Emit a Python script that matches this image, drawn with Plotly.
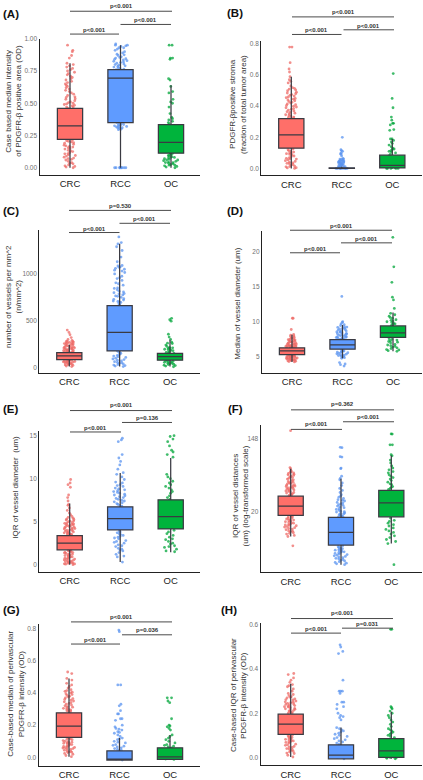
import plotly.graph_objects as go
import math

W, H = 423, 780
categories = ["CRC", "RCC", "OC"]

# Box statistics per panel: [CRC, RCC, OC]
A_q1 = [0.22, 0.35, 0.113]; A_med = [0.325, 0.695, 0.197]; A_q3 = [0.46, 0.76, 0.335]
A_lo = [0.0, 0.0, 0.0]; A_hi = [0.81, 0.95, 0.64]
B_q1 = [0.13, 0.0, 0.003]; B_med = [0.215, 0.001, 0.02]; B_q3 = [0.32, 0.004, 0.085]
B_lo = [0.0, 0.0, 0.0]; B_hi = [0.59, 0.01, 0.19]
C_q1 = [85, 177, 78]; C_med = [124, 375, 117]; C_q3 = [159, 660, 152]
C_lo = [10, 10, 10]; C_hi = [244, 1321, 297]
D_q1 = [5.33, 6.1, 7.77]; D_med = [5.85, 6.7, 8.43]; D_q3 = [6.3, 7.45, 9.4]
D_lo = [4.3, 4.8, 5.8]; D_hi = [8.15, 9.55, 11.3]
E_q1 = [1.73, 4.04, 4.15]; E_med = [2.5, 5.35, 5.58]; E_q3 = [3.38, 6.73, 7.54]
E_lo = [0.0, 0.3, 1.45]; E_hi = [7.1, 10.65, 12.4]
F_q1 = [18.3, 8.16, 17.6]; F_med = [23.5, 11.5, 25.7]; F_q3 = [30.8, 17.3, 36.1]
F_lo = [10.3, 4.8, 8.5]; F_hi = [64.8, 49.5, 93]
G_q1 = [0.125, -0.016, -0.012]; G_med = [0.195, -0.011, 0.003]; G_q3 = [0.277, 0.041, 0.06]
G_lo = [0.005, -0.016, -0.012]; G_hi = [0.49, 0.12, 0.14]
H_q1 = [0.105, -0.006, 0.0]; H_med = [0.151, 0.01, 0.03]; H_q3 = [0.196, 0.057, 0.085]
H_lo = [0.002, -0.006, -0.006]; H_hi = [0.334, 0.136, 0.207]

# Points
A_CRC = [0,.01,.015,.03,.04,.06,.07,.075,.09,.1,.11,.125,.13,.145,.15,.16,.17,.175,.19,.2,.21,.225,.23,.245,.25,.265,.27,.28,.295,.3,.31,.325,.33,.34,.35,.355,.37,.38,.39,.405,.41,.425,.44,.45,.46,.47,.49,.5,.52,.535,.55,.56,.58,.59,.61,.62,.64,.66,.67,.69,.71,.72,.74,.75,.77,.79,.8,.81,.85,.87,.9,.91,.95,
         .005,.022,.035,.05,.065,.082,.095,.108,.118,.135,.155,.165,.182,.195,.205,.215,.47,.48,.485,.495,.505,.51,.53,.545,.57,.6,.63,.65,.68,.7,.73,.76,.78]
A_RCC = [0,0,0,0,0,0,0,0,0,.3,.305,.31,.32,.32,.33,.335,.34,.35,.36,.37,.385,.41,.45,.5,.55,.6,.64,.67,.69,.7,.72,.73,.75,.76,.77,.775,.78,.79,.8,.805,.81,.82,.83,.84,.85,.86,.87,.88,.9,.92,.93,.94,.95,.95,.96,
         .295,.315,.325,.345,.31,.33,.765,.785,.795,.815,.825,.835,.845,.855,.875,.89,.91,.93,.945]
A_OC = [0,.01,.015,.02,.03,.04,.05,.06,.065,.07,.08,.085,.09,.1,.105,.11,.115,.34,.35,.36,.37,.38,.39,.42,.47,.5,.51,.53,.58,.59,.63,.68,.69,.84,.85,.85,.95,.95,
        .005,.025,.035,.045,.055,.075,.095,.02,.04,.06,.08]
B_CRC = [0,.005,.01,.015,.02,.03,.035,.04,.05,.06,.065,.07,.08,.09,.095,.1,.11,.12,.125,.14,.16,.19,.22,.26,.3,.32,.325,.33,.34,.345,.35,.36,.37,.375,.38,.39,.4,.41,.415,.42,.43,.44,.445,.45,.46,.47,.475,.48,.49,.5,.51,.52,.53,.55,.56,.57,.59,.62,.64,.68,.78,.78,
         .003,.012,.025,.033,.045,.055,.062,.075,.085,.098,.105,.115,.328,.338,.355,.365,.385,.395,.405,.425,.435,.455,.465,.485,.505,.515]
B_RCC = [0,0,0,0,0,0,0,0,0,.002,.005,.005,.01,.01,.015,.02,.02,.025,.03,.03,.035,.04,.04,.045,.05,.05,.055,.06,.06,.065,.08,.09,.095,.1,.11,.115,.12,.2,
         .008,.012,.018,.022,.028,.033,.038,.042,.048,.052,.058]
B_OC = [0,0,0,0,0,.002,.005,.01,.02,.03,.04,.05,.06,.08,.09,.1,.105,.11,.115,.12,.125,.13,.14,.15,.16,.17,.18,.19,.19,.245,.25,.28,.29,.29,.31,.33,.39,.45,.61]
C_CRC = [10,22,30,38,45,52,58,62,68,72,78,82,88,92,98,102,108,112,118,122,128,132,138,142,148,155,160,165,170,176,182,188,195,200,207,214,220,228,235,240,248,255,262,268,275,282,290,300,320,350,375,400,
         16,27,34,42,48,55,60,65,70,75,162,168,173,179,185,192,198,203,210,218,225,232,244,252,258,265,272,280]
C_RCC = [10,20,32,45,55,70,85,100,115,130,150,165,175,680,695,700,710,720,735,750,760,775,790,800,815,830,850,880,905,930,950,975,1000,1015,1030,1050,1060,1075,1085,1090,1130,1180,1250,1290,1320,1335,1395,
         15,26,38,50,62,78,92,108,122,140,158,672,705,728,765,785,808,845,895,960,1040,1070]
C_OC = [8,15,25,32,40,48,55,62,70,75,150,160,165,172,180,190,195,205,215,225,240,255,260,270,300,325,355,495,510,525,20,35,45,58,66,155,185,200,210]
D_CRC = [4.3,4.4,4.5,4.55,4.6,4.7,4.75,4.8,4.9,4.95,5,5.05,5.1,5.15,5.2,5.25,5.3,6.3,6.35,6.4,6.45,6.5,6.55,6.6,6.65,6.7,6.8,6.85,6.9,7,7.05,7.1,7.2,7.25,7.3,7.4,7.5,7.6,7.7,7.8,7.9,8,8.1,8.2,8.9,10.5,10.5,
         4.35,4.45,4.52,4.62,4.68,4.72,4.78,4.85,4.88,4.92,4.98,5.02,5.08,5.12,5.18,5.22,5.28,6.32,6.38,6.42,6.48,6.52,6.58,6.62,6.72,6.78,6.95,7.15,7.35,7.45,7.65]
D_RCC = [3.7,3.9,4,4.2,4.8,4.9,5,5.1,5.2,5.3,5.4,5.5,5.6,5.7,5.75,5.8,5.9,6,7.5,7.55,7.6,7.7,7.8,7.85,7.9,8,8.1,8.2,8.25,8.3,8.4,8.5,8.6,8.7,8.8,8.9,9,9.1,9.2,9.3,9.45,9.6,9.7,9.9,10,13.6,
         5.05,5.25,5.45,5.65,5.85,7.52,7.65,7.75,7.95,8.15,8.35,8.55,8.75,9.05,9.25]
D_OC = [5.8,5.9,6,6.05,6.2,6.3,6.4,6.5,6.6,6.7,6.8,7,7.1,7.2,7.3,7.4,7.5,7.6,9.5,9.6,9.7,9.8,9.9,10,10.1,10.2,10.3,10.5,10.6,10.8,11,11.2,11.9,13.1,13.5,15.6,17.8,22]
E_CRC = [0,.05,.1,.15,.2,.3,.35,.4,.5,.55,.6,.7,.75,.8,.9,.95,1,1.1,1.2,1.3,1.4,1.5,1.6,1.7,3.4,3.5,3.55,3.6,3.7,3.8,3.9,4,4.1,4.15,4.2,4.3,4.4,4.5,4.6,4.7,4.8,4.9,5,5.1,5.2,5.3,5.4,5.6,5.8,6,6.3,6.6,6.9,7,7.4,7.8,8.1,9,9.3,9.5,9.9,
         .08,.18,.25,.45,.65,.85,1.05,1.15,1.25,1.35,1.45,1.55,1.65,3.45,3.65,3.75,3.85,3.95,4.05,4.25,4.35,4.45,4.55,4.65,4.75,4.85,5.05,5.25,5.5]
E_RCC = [.3,.9,1,1.2,1.4,1.6,1.7,1.9,2.1,2.3,2.5,2.6,2.8,3,3.1,3.3,3.4,3.6,3.8,3.9,6.8,6.9,7.1,7.3,7.4,7.6,7.8,8,8.1,8.3,8.5,8.6,8.7,8.9,9.1,9.3,9.6,9.9,10.2,10.5,10.7,11.1,11.6,12,12.4,12.8,14.3,14.5,14.7,
         1.8,2.2,2.7,3.2,3.5,3.7,7,7.2,7.5,7.7,7.9,8.2,8.4,8.8,9.2,9.5]
E_OC = [1.5,1.6,1.8,2,2.1,2.2,2.4,2.5,2.7,2.9,3,3.2,3.4,3.6,3.8,4,7.6,7.8,8,8.3,8.5,8.7,8.9,9.1,9.3,9.5,9.7,10,10.2,10.5,12.5,12.8,13.1,13.3,13.8,14.3,14.6,14.9,15]
F_CRC = [8,10.3,10.6,11,11.4,11.7,12,12.4,12.8,13.1,13.5,13.8,14.1,14.5,15,15.4,15.9,16.3,16.8,17.5,18,31,32,33,33.5,34,35,36,37,37.5,38,39,40,41,42,43,44,45,46,48,49,50,52,54,56,58,60,62,65,67,182,
         11.2,11.9,12.6,13.3,13.9,14.3,14.8,15.2,15.7,16.1,16.6,17.1,17.8,31.5,32.5,34.5,35.5,36.5,38.5,39.5,40.5,41.5,43.5,44.5,47,51,53,55,57,59]
F_RCC = [4.8,4.9,5,5.2,5.3,5.5,5.6,5.8,6,6.1,6.3,6.5,6.7,6.9,7.1,7.3,7.5,7.8,8,17.5,18,18.7,19,19.5,20,20.5,21,22,23,23.5,24,25,26,27,28,29,30,31,32,34,36,38,41,44,48,50,53,65,66,89,90,115,116,
         5.1,5.4,5.7,5.9,6.2,6.4,6.6,6.8,7,7.2,7.4,7.7,17.8,18.4,19.2,20.2,21.5,22.5,24.5,25.5,27.5]
F_OC = [4.8,8.5,9,9.5,10,10.5,11,11.5,12,12.5,13,13.7,14.2,14.8,15.5,16,17,37,38,39,40,42,43,45,47,49,51,53,55,58,60,63,66,70,76,82,92,95,124,124,166,167]
G_CRC = [.005,.012,.02,.03,.035,.04,.05,.055,.06,.065,.07,.08,.085,.09,.095,.1,.11,.115,.12,.13,.28,.285,.29,.295,.3,.31,.315,.32,.33,.335,.34,.35,.355,.36,.37,.375,.38,.39,.395,.4,.41,.415,.42,.43,.44,.45,.46,.48,.49,.52,.53,
         .025,.033,.038,.045,.052,.058,.062,.068,.075,.082,.088,.092,.098,.105,.112,.118,.288,.298,.305,.312,.325,.345,.365,.385,.405]
G_RCC = [-.016,-.01,0,.01,.02,.03,.04,.045,.05,.055,.06,.065,.07,.075,.08,.09,.095,.1,.11,.115,.12,.13,.14,.15,.155,.16,.17,.175,.18,.19,.2,.23,.24,.24,.27,.27,.29,.32,.33,.45,.45,.78,.79]
G_OC = [-.012,-.01,-.005,0,.005,.01,.02,.03,.04,.05,.06,.065,.07,.075,.08,.09,.1,.11,.12,.13,.14,.17,.18,.19,.195,.2,.24,.34,.35,.37,.37]
H_CRC = [.002,.01,.02,.025,.03,.035,.04,.045,.05,.055,.06,.065,.07,.075,.08,.085,.09,.095,.1,.2,.205,.21,.215,.22,.225,.23,.235,.24,.245,.25,.255,.26,.265,.27,.275,.28,.29,.3,.31,.32,.325,.33,.34,.35,.36,.375,.38,
         .018,.028,.038,.048,.058,.068,.072,.078,.082,.088,.092,.098,.202,.208,.212,.218,.222,.228,.232,.238,.242,.248,.252,.262,.272,.285]
H_RCC = [-.006,0,.005,.01,.02,.03,.04,.05,.06,.065,.07,.075,.08,.085,.09,.095,.1,.105,.11,.115,.12,.125,.13,.135,.17,.18,.185,.19,.2,.22,.23,.24,.25,.25,.29,.3,.3,.3,.35,.47,.48,.5,.51]
H_OC = [-.006,-.004,-.002,0,0,.002,.005,.01,.02,.03,.04,.05,.06,.07,.08,.09,.095,.1,.105,.11,.115,.12,.125,.13,.14,.15,.16,.17,.18,.19,.2,.21,.22,.225,.23,.58,.58]

stats = {
    "A": (A_q1, A_med, A_q3, A_lo, A_hi, (A_CRC, A_RCC, A_OC)),
    "B": (B_q1, B_med, B_q3, B_lo, B_hi, (B_CRC, B_RCC, B_OC)),
    "C": (C_q1, C_med, C_q3, C_lo, C_hi, (C_CRC, C_RCC, C_OC)),
    "D": (D_q1, D_med, D_q3, D_lo, D_hi, (D_CRC, D_RCC, D_OC)),
    "E": (E_q1, E_med, E_q3, E_lo, E_hi, (E_CRC, E_RCC, E_OC)),
    "F": (F_q1, F_med, F_q3, F_lo, F_hi, (F_CRC, F_RCC, F_OC)),
    "G": (G_q1, G_med, G_q3, G_lo, G_hi, (G_CRC, G_RCC, G_OC)),
    "H": (H_q1, H_med, H_q3, H_lo, H_hi, (H_CRC, H_RCC, H_OC)),
}

# Layout in pixels
panels = {
 "A": dict(left=39.5, right=200, top=35, bottom=172, cx=(70, 171), cal=(0, 165, 1, 35), ticks=[0, .25, .5, .75, 1],
           ticktext=["0.00", "0.25", "0.50", "0.75", "1.00"],
           title=["Case based median intensity", "of PDGFR-β positive area (OD)"], tx=(8.5, 18.5), ty=98,
           letter=(0.5, 10), br=[(70, 119, 30.3, 26), (120.5, 171, 20.6, 16.5), (70, 172, 7.3, 2.5)], p=["p<0.001", "p<0.001", "p<0.001"]),
 "B": dict(left=261.3, right=422, top=37, bottom=172.7, cx=(291.3, 392.3), cal=(0, 165.7, .8, 40.3), ticks=[0, .2, .4, .6, .8],
           ticktext=["0.0", "0.2", "0.4", "0.6", "0.8"],
           title=["PDGFR-βpositive stroma", "(fraction of total tumor area)"], tx=(232.7, 243.7), ty=101,
           letter=(225, 9.5), br=[(292, 341.5, 30.7, 26.5), (343.5, 394, 26, 21.7), (292, 394, 13, 8)], p=["p<0.001", "p<0.001", "p<0.001"]),
 "C": dict(left=39.3, right=200, top=228, bottom=371.7, cx=(69.3, 170), cal=(0, 366.3, 1000, 272), ticks=[0, 500, 1000],
           ticktext=["0", "500", "1000"],
           title=["number of vessels per mm^2", "(n/mm^2)"], tx=(8.3, 18.8), ty=295,
           letter=(0.5, 208.7), br=[(69, 119.5, 230.3, 226.7), (119.5, 170, 221, 216.7), (69, 171, 208, 203.7)], p=["p<0.001", "p<0.001", "p=0.530"]),
 "D": dict(left=262, right=422, top=229, bottom=371.7, cx=(292, 393), cal=(5, 355.7, 20, 249.3), ticks=[5, 10, 15, 20],
           ticktext=["5", "10", "15", "20"],
           title=["Median of vessel diameter (um)"], tx=(237.3,), ty=301.7,
           letter=(225, 208.5), br=[(290, 340, 250.7, 246.5), (341, 392, 240.7, 236.7), (290, 392, 228, 223.3)], p=["p<0.001", "p<0.001", "p<0.001"]),
 "E": dict(left=39.3, right=200, top=430, bottom=572, cx=(69.7, 170.7), cal=(0, 565, 15, 435), ticks=[0, 5, 10, 15],
           ticktext=["0", "5", "10", "15"],
           title=["IQR of vessel diameter  (um)"], tx=(15.7,), ty=486.7,
           letter=(0.5, 408), br=[(70, 121, 431.3, 427), (122, 172, 421.7, 417.7), (70, 172, 409.7, 403.7)], p=["p<0.001", "p=0.136", "p<0.001"]),
 "F": dict(left=260.7, right=422, top=424, bottom=572.7, cx=(290.7, 391.3), cal=(20, 512, 148, 437.7), ticks=[20, 148],
           ticktext=["20", "148"], log=True,
           title=["IQR of vessel distances", "(um) (log-transformed scale)"], tx=(234.7, 245.3), ty=496,
           letter=(226, 408.5), br=[(291, 342, 428.7, 423.7), (343, 394, 421, 416.7), (291, 394, 409, 403.3)], p=["p<0.001", "p<0.001", "p=0.362"]),
 "G": dict(left=38.7, right=200, top=625, bottom=767.7, cx=(69, 170), cal=(0, 759.3, .8, 629.3), ticks=[0, .2, .4, .6, .8],
           ticktext=["0.0", "0.2", "0.4", "0.6", "0.8"],
           title=["Case-based median of perivascular", "PDGFR-β intensity (OD)"], tx=(11, 21.7), ty=695,
           letter=(0.5, 611), br=[(71, 120, 645, 641), (122, 172, 635.7, 631), (71, 172, 622.7, 617.3)], p=["p<0.001", "p=0.036", "p<0.001"]),
 "H": dict(left=260.7, right=422, top=624.3, bottom=767.3, cx=(290.7, 391.3), cal=(0, 759.3, .6, 625.7), ticks=[0, .2, .4, .6],
           ticktext=["0.0", "0.2", "0.4", "0.6"],
           title=["Case-based IQR of perivascular", "PDGFR-β intensity (OD)"], tx=(233.7, 243.7), ty=696.7,
           letter=(219, 610.5), br=[(291, 341, 634, 630), (342, 393, 629, 625), (291, 393, 619.3, 613.7)], p=["p<0.001", "p=0.031", "p<0.001"]),
}

fills = ["#FF6F69", "#5F9BFF", "#00B43C"]
pts = ["#EE6A66", "#5B94F0", "#00A53A"]
FONT = "Liberation Sans, Arial, sans-serif"
fx = lambda px: px / W
fy = lambda px: 1 - px / H

fig = go.Figure()
layout = dict(width=W, height=H, margin=dict(l=0, r=0, t=0, b=0), paper_bgcolor="white", plot_bgcolor="white",
              showlegend=False, boxmode="overlay", annotations=[], shapes=[])
for i, (key, p) in enumerate(panels.items()):
    sfx = "" if i == 0 else str(i + 1)
    xn, yn = "x" + sfx, "y" + sfx
    q1, med, q3, lo, hi, groups = stats[key]
    for j, cat in enumerate(categories):
        fig.add_trace(go.Box(x=[cat] * len(groups[j]), y=groups[j], xaxis=xn, yaxis=yn, boxpoints="all",
                             jitter=[0.5, 0.55, 0.6][j], pointpos=0,
                             width=0.5, fillcolor="rgba(0,0,0,0)", line=dict(width=0, color="rgba(0,0,0,0)"),
                             marker=dict(size=2.8, color=pts[j], opacity=0.75, line=dict(width=0)), hoverinfo="skip"))
    for j, cat in enumerate(categories):
        fig.add_trace(go.Box(x=[cat], q1=[q1[j]], median=[med[j]], q3=[q3[j]], lowerfence=[lo[j]], upperfence=[hi[j]],
                             xaxis=xn, yaxis=yn, width=0.5, whiskerwidth=0, fillcolor=fills[j], boxpoints=False,
                             line=dict(width=1.25, color="#3A3A42"), hoverinfo="skip"))
    unit = (p["cx"][1] - p["cx"][0]) / 2
    xr = [(p["left"] - p["cx"][0]) / unit, 2 + (p["right"] - p["cx"][1]) / unit]
    v0, p0, v1, p1 = p["cal"]
    tr = (lambda v: math.log10(v)) if p.get("log") else (lambda v: v)
    k = (tr(v1) - tr(v0)) / (p0 - p1)
    yr = [tr(v0) + (p0 - p["bottom"]) * k, tr(v0) + (p0 - p["top"]) * k]
    aline = dict(showline=True, linecolor="#222222", linewidth=1.3, showgrid=False, zeroline=False, ticks="")
    layout["xaxis" + sfx] = dict(aline, domain=[fx(p["left"]), fx(p["right"])], anchor=yn, type="category", categoryorder="array",
                                 categoryarray=categories, range=xr, tickfont=dict(family=FONT, size=9.5, color="#222222"))
    layout["yaxis" + sfx] = dict(aline, domain=[fy(p["bottom"]), fy(p["top"])], anchor=xn, range=yr, tickvals=p["ticks"],
                                 ticktext=p["ticktext"], type="log" if p.get("log") else "linear",
                                 tickfont=dict(family=FONT, size=6.5, color="#707070"))
    layout["annotations"].append(dict(text="<b>(%s)</b>" % key, x=fx(p["letter"][0]), y=fy(p["letter"][1]), xref="paper", yref="paper",
                                      xanchor="left", yanchor="middle", showarrow=False, font=dict(family=FONT, size=11.5, color="#111111")))
    for line, tx in zip(p["title"], p["tx"]):
        layout["annotations"].append(dict(text=line, x=fx(tx), y=fy(p["ty"]), xref="paper", yref="paper", textangle=-90,
                                          xanchor="center", yanchor="middle", showarrow=False,
                                          font=dict(family=FONT, size=8, color="#333333")))
    for (x0, x1, yb, yt), label in zip(p["br"], p["p"]):
        layout["shapes"].append(dict(type="line", xref="paper", yref="paper", x0=fx(x0), x1=fx(x1), y0=fy(yb), y1=fy(yb),
                                     line=dict(color="#4A4A4A", width=1)))
        layout["annotations"].append(dict(text="<b>%s</b>" % label, x=fx((x0 + x1) / 2), y=fy(yt), xref="paper", yref="paper",
                                          xanchor="center", yanchor="middle", showarrow=False,
                                          font=dict(family=FONT, size=6, color="#333333")))
fig.update_layout(**layout)
fig.write_html("out.html", config=dict(displayModeBar=False),
               post_script="document.body.style.margin='0';document.body.style.overflow='hidden';")
